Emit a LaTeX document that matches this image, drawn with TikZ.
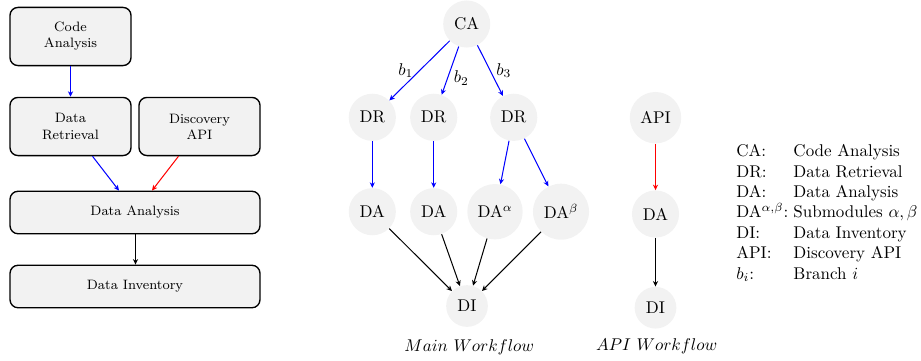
\documentclass[tikz,border=0pt]{standalone}
\usetikzlibrary{arrows.meta}
\definecolor{boxgray}{HTML}{F2F2F2}
\begin{document}
\begin{tikzpicture}[x=0.5882pt,y=-0.5882pt,
  blk/.style={draw=black,thick,fill=boxgray,rounded corners=4.7pt,align=center,font=\footnotesize,inner sep=2pt},
  sbox/.style={blk,minimum width=71.2pt,minimum height=34.2pt},
  wbox/.style={blk,minimum width=147pt,minimum height=25pt},
  circ/.style={circle,fill=boxgray,inner sep=4.1pt},
  arr/.style={-{Stealth[length=3.2pt,width=3pt,inset=1pt]},semithick},
  lbl/.style={text=black}]
\useasboundingbox (0,0) rectangle (921,360);
% left flowchart
\node[sbox] (ca) at (70.5,36.5) {Code\\Analysis};
\node[sbox] (dr) at (70.5,126.5) {Data\\Retrieval};
\node[sbox] (dapi) at (199.5,126.5) {Discovery\\API};
\node[wbox] (da) at (135,212.5) {Data Analysis};
\node[wbox] (di) at (135,286.5) {Data Inventory};
\draw[arr,blue] (ca) -- (dr);
\draw[arr,blue] ([xshift=22*0.5882pt]dr.south) -- ([xshift=-16*0.5882pt]da.north);
\draw[arr,red] ([xshift=-21*0.5882pt]dapi.south) -- ([xshift=17*0.5882pt]da.north);
\draw[arr] ([xshift=0.5*0.5882pt]da.south) -- ([xshift=0.5*0.5882pt]di.north);
% main workflow
\node[circ] (mca) at (466.7,24) {CA};
\node[circ] (mdr1) at (372.3,117.3) {DR};
\node[circ] (mdr2) at (433.7,117.3) {DR};
\node[circ] (mdr3) at (513.7,117.3) {DR};
\node[circ] (mda1) at (372.3,211.7) {DA};
\node[circ] (mda2) at (433.7,211.7) {DA};
\node[circ] (mdaa) at (495,211.7) {DA$^\alpha$};
\node[circ] (mdab) at (561,211.7) {DA$^\beta$};
\node[circ] (mdi) at (467,306) {DI};
\node (mcap) at (469.3,347.7) {$Main\ Workflow$};
\draw[arr,blue] (mca) -- node[lbl,midway,left] {$b_1$} (mdr1);
\draw[arr,blue] (mca) -- node[lbl,pos=0.65,right] {$b_2$} (mdr2);
\draw[arr,blue] (mca) -- node[lbl,midway,right] {$b_3$} (mdr3);
\draw[arr,blue] (mdr1) -- (mda1);
\draw[arr,blue] (mdr2) -- (mda2);
\draw[arr,blue] (mdr3) -- (mdaa);
\draw[arr,blue] (mdr3) -- (mdab);
\draw[arr] (mda1) -- (mdi);
\draw[arr] (mda2) -- (mdi);
\draw[arr] (mdaa) -- (mdi);
\draw[arr] (mdab) -- (mdi);
% api workflow
\node[circ] (aapi) at (655.5,117.7) {API};
\node[circ] (ada) at (655.5,214) {DA};
\node[circ] (adi) at (655.5,307.7) {DI};
\node (acap) at (656.7,346.7) {$API\ Workflow$};
\draw[arr,red] (aapi) -- (ada);
\draw[arr] (ada) -- (adi);
% legend
\node[anchor=north west,inner sep=0pt] (leg) at (736,142) {%
\begin{tabular}{@{}l@{\hspace{3pt}}l@{}}
CA: & Code Analysis\\
DR: & Data Retrieval\\
DA: & Data Analysis\\
DA$^{\alpha,\beta}$: & Submodules $\alpha,\beta$\\
DI: & Data Inventory\\
API: & Discovery API\\
$b_i$: & Branch $i$
\end{tabular}};
\end{tikzpicture}
\end{document}
